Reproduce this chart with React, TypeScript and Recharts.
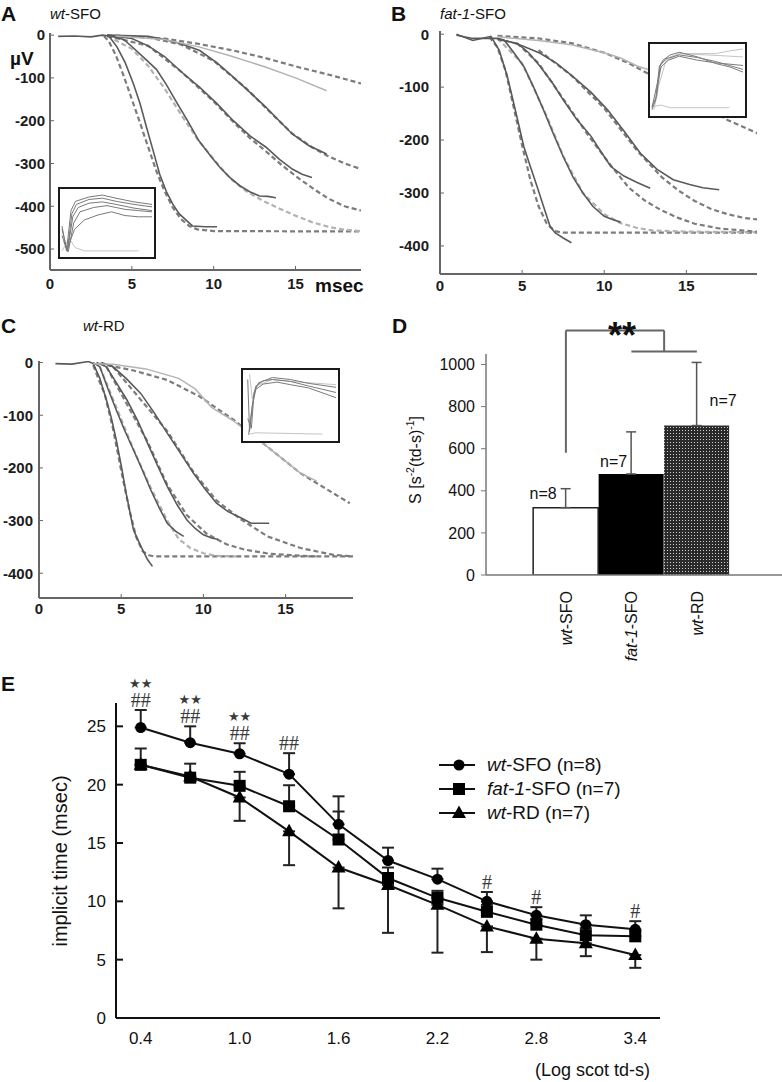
import React from 'react'
import {
  Bar,
  BarChart,
  Cell,
  ErrorBar,
  LabelList,
  Legend,
  Line,
  LineChart,
  ReferenceLine,
  XAxis,
  YAxis,
} from 'recharts'

const FONT = '"Liberation Sans", Arial, Helvetica, sans-serif'
const BOX = '#666'

type Pt = [number, number]
type Kind = 'solid' | 'light' | 'fit' | 'fitLight'

// ---- A: wt-SFO leading edges (msec, µV) ----
const aRec1: Pt[] = [[0.5, -3], [1.5, -2], [2.5, -4], [3.2, 0], [3.6, -2], [4.1, -28], [4.6, -65], [5.1, -114], [5.5, -160], [5.9, -216], [6.3, -270], [6.7, -325], [7.1, -365], [7.5, -395], [7.9, -418], [8.3, -432], [8.7, -446], [9.5, -448], [10.2, -448]]
const aFit1: Pt[] = [[3.3, -2], [3.6, -15], [4, -45], [4.5, -95], [5, -150], [5.5, -205], [6, -262], [6.5, -318], [7, -365], [7.5, -403], [8, -430], [8.5, -446], [9, -454], [10, -458], [19, -459]]
const aRec2: Pt[] = [[3.5, 0], [4.5, -10], [5.1, -30], [5.8, -55], [6.5, -80], [7.1, -115], [7.7, -155], [8.4, -200], [9.1, -247], [9.8, -282], [10.4, -310], [11, -333], [11.6, -352], [12.2, -366], [12.8, -376], [13.3, -377], [13.8, -380]]
const aFit2: Pt[] = [[3.5, -2], [5, -32], [6, -72], [7, -125], [8, -185], [9, -243], [10, -290], [11, -335], [12, -365], [13, -387], [14, -405], [15, -422], [16, -437], [17, -448], [18, -455], [19, -458]]
const aRec3: Pt[] = [[3.5, 0], [5, -8], [6, -25], [7, -50], [8, -85], [9.15, -122], [10.2, -160], [11.2, -200], [12.2, -235], [13.2, -262], [14, -290], [14.8, -313], [15.4, -325], [16, -333]]
const aFit3: Pt[] = [[3.5, -2], [6, -25], [8, -85], [10, -155], [11.2, -203], [12.2, -240], [13.2, -272], [14.2, -305], [15.2, -335], [16.2, -362], [17, -382], [18, -400], [19, -410]]
const aRec4: Pt[] = [[3.5, 0], [6, -3], [7, -10], [8, -20], [9.15, -36], [10.2, -65], [11.2, -98], [12.2, -133], [13.2, -169], [14, -200], [14.8, -231], [15.8, -258], [16.9, -278]]
const aFit4: Pt[] = [[3.5, -2], [6, -5], [8, -22], [10, -60], [12, -125], [13.5, -182], [14.8, -230], [16, -262], [17, -283], [18, -300], [19, -313]]
const aRec5: Pt[] = [[4, -2], [7, -10], [9.15, -28], [11, -48], [13.2, -75], [15, -100], [16.9, -130]]
const aFit5: Pt[] = [[4, -1], [7, -8], [9, -20], [11.2, -36], [13, -52], [15.2, -75], [17.3, -95], [19, -113]]

// ---- B: fat-1-SFO ----
const bRec1: Pt[] = [[1, 0], [2, -12], [3.1, -4], [3.6, -30], [4.1, -80], [4.6, -145], [5.1, -212], [5.5, -250], [5.9, -287], [6.3, -325], [6.7, -363], [7, -375], [7.5, -385], [8, -394]]
const bFit1: Pt[] = [[3, -5], [3.5, -25], [4, -70], [4.5, -140], [5, -210], [5.5, -275], [6, -325], [6.5, -358], [7, -372], [7.5, -375], [10, -375], [19.3, -375]]
const bRec2: Pt[] = [[1, -2], [2, -8], [3.5, -8], [3.9, -11], [4.5, -35], [5.1, -61], [5.7, -100], [6.3, -143], [6.9, -188], [7.5, -231], [8.1, -270], [8.7, -300], [9.3, -325], [10, -344], [10.5, -350], [11, -355]]
const bFit2: Pt[] = [[3.5, -8], [5, -55], [6.5, -155], [7.5, -230], [8.7, -300], [10, -340], [11, -357], [12, -366], [13, -371], [15, -373], [19.3, -374]]
const bRec3: Pt[] = [[3.5, -10], [4.7, -17], [5.4, -35], [6.1, -61], [6.8, -90], [7.5, -124], [8.3, -160], [9.2, -193], [9.8, -222], [10.4, -250], [11.2, -268], [12, -280], [12.8, -291]]
const bFit3: Pt[] = [[4.7, -17], [6, -55], [7.5, -122], [9, -190], [10.4, -248], [11.5, -290], [12.5, -315], [13.5, -333], [14.5, -347], [15.5, -358], [17, -367], [19.3, -373]]
const bRec4: Pt[] = [[4, -12], [5, -22], [6.1, -36], [7.1, -55], [8.1, -80], [9.2, -110], [10.2, -143], [11.2, -183], [12.2, -225], [13.2, -255], [14.2, -275], [15.2, -284], [16, -290], [17, -294]]
const bFit4: Pt[] = [[6, -30], [8, -78], [10, -140], [12, -220], [13.5, -270], [14.5, -295], [15.5, -315], [16.5, -330], [17.5, -340], [18.5, -347], [19.3, -350]]
const bRec5: Pt[] = [[3.5, -5], [6, -12], [8, -20], [10, -35], [11, -45], [12, -60], [13, -70]]
const bFit5: Pt[] = [[3.5, -3], [6, -8], [8, -17], [10, -35], [11.5, -55], [13, -80], [14.5, -108], [16, -135], [17.5, -162], [19.3, -187]]

// ---- C: wt-RD ----
const cRec1: Pt[] = [[1, -2], [2, -3], [3, 2], [3.3, -2], [3.7, -30], [4.1, -71], [4.4, -105], [4.7, -147], [5, -195], [5.3, -248], [5.75, -318], [6.2, -349], [6.6, -374], [6.9, -387]]
const cFit1: Pt[] = [[3.3, -5], [3.6, -30], [4, -60], [4.5, -125], [5, -205], [5.5, -280], [5.9, -330], [6.3, -358], [6.7, -366], [7, -368], [19.1, -368]]
const cRec2: Pt[] = [[3.3, 0], [3.7, -8], [4.2, -50], [4.7, -90], [5.2, -128], [5.75, -166], [6.3, -205], [6.8, -242], [7.3, -275], [7.8, -305], [8.3, -320], [8.8, -330]]
const cFit2: Pt[] = [[3.7, -8], [5.75, -165], [6.8, -238], [7.8, -300], [8.5, -335], [9.2, -352], [10, -362], [10.8, -367], [12, -368]]
const cRec3: Pt[] = [[3.5, 0], [4.1, -8], [4.7, -38], [5.35, -71], [6, -110], [6.6, -153], [7.2, -195], [7.8, -235], [8.4, -270], [9, -299], [9.5, -315], [10, -327], [10.5, -333], [10.9, -336]]
const cFit3: Pt[] = [[4.1, -8], [6.6, -150], [7.8, -232], [9, -290], [10.2, -325], [11.4, -345], [12.5, -355], [14, -363], [16, -367], [17, -368]]
const cRec4: Pt[] = [[3.8, 0], [4.5, -8], [5.3, -30], [6.2, -59], [7, -95], [7.8, -134], [8.6, -172], [9.4, -210], [10.1, -240], [10.8, -267], [11.5, -283], [12.3, -295], [12.9, -305], [14, -305]]
const cFit4: Pt[] = [[4.5, -8], [7.8, -130], [9.4, -208], [10.8, -262], [12.3, -298], [13.9, -330], [15.9, -352], [17.9, -365], [19.1, -368]]
const cRec5: Pt[] = [[3.3, -2], [4.5, -3], [6.5, -12], [8.5, -30], [9.5, -50], [10.5, -85], [11.8, -110], [13.9, -160], [15.9, -210], [16.9, -225]]
const cFit5: Pt[] = [[3.7, -2], [5.75, -15], [7.8, -33], [9.8, -65], [11.85, -109], [13.9, -160], [15.9, -210], [17.9, -248], [18.9, -267]]

// ---- insets (normalised time, normalised amplitude) ----
const insetA: Pt[][] = [
  [[0, 0.45], [0.05, 0.05], [0.1, 0.7], [0.15, 0.85], [0.3, 0.92], [0.45, 0.95], [0.6, 0.9], [0.8, 0.84], [1, 0.8]],
  [[0, 0.4], [0.06, 0.05], [0.11, 0.65], [0.16, 0.8], [0.3, 0.88], [0.45, 0.9], [0.6, 0.85], [0.8, 0.8], [1, 0.76]],
  [[0, 0.3], [0.06, 0.04], [0.12, 0.6], [0.18, 0.75], [0.3, 0.82], [0.45, 0.84], [0.6, 0.8], [0.8, 0.74], [1, 0.7]],
  [[0.02, 0.2], [0.07, 0.04], [0.13, 0.5], [0.2, 0.68], [0.35, 0.75], [0.5, 0.78], [0.7, 0.72], [0.85, 0.7], [1, 0.68]],
  [[0.05, 0.05], [0.14, 0.4], [0.25, 0.55], [0.4, 0.63], [0.55, 0.68], [0.7, 0.62], [0.85, 0.6], [1, 0.6]],
]
const insetALight: Pt[][] = [
  [[0, 0.05], [0.08, 0.25], [0.15, 0.1], [0.25, 0.05], [0.85, 0.05]],
]
const insetB: Pt[][] = [
  [[0, 0.05], [0.04, 0.2], [0.08, 0.7], [0.12, 0.8], [0.2, 0.88], [0.3, 0.92], [0.5, 0.85], [0.7, 0.75], [0.85, 0.7], [1, 0.62]],
  [[0, 0.1], [0.05, 0.25], [0.09, 0.72], [0.15, 0.82], [0.3, 0.88], [0.5, 0.84], [0.7, 0.78], [0.85, 0.72], [1, 0.66]],
  [[0, 0.08], [0.05, 0.4], [0.1, 0.7], [0.18, 0.8], [0.3, 0.86], [0.5, 0.8], [0.7, 0.76], [1, 0.72]],
]
const insetBLight: Pt[][] = [
  [[0.02, 0.05], [0.06, 0.3], [0.1, 0.75], [0.2, 0.85], [0.3, 0.9], [0.5, 0.9], [0.7, 0.9], [0.85, 0.94], [1, 0.97]],
  [[0.05, 0.3], [0.15, 0.78], [0.3, 0.9], [0.6, 0.88], [1, 0.85]],
  [[0.02, 0.1], [0.1, 0.12], [0.2, 0.08], [0.85, 0.08]],
]
const insetC: Pt[][] = [
  [[0.03, 0.9], [0.05, 0.1], [0.09, 0.6], [0.12, 0.8], [0.2, 0.88], [0.3, 0.9], [0.5, 0.87], [0.7, 0.8], [0.85, 0.75], [1, 0.7]],
  [[0.04, 0.05], [0.08, 0.5], [0.12, 0.75], [0.2, 0.83], [0.35, 0.86], [0.5, 0.82], [0.7, 0.77], [1, 0.62]],
  [[0.03, 0.3], [0.07, 0.15], [0.1, 0.7], [0.15, 0.85], [0.3, 0.93], [0.5, 0.9], [0.7, 0.84], [1, 0.78]],
]
const insetCLight: Pt[][] = [
  [[0.05, 0.98], [0.08, 0.6], [0.12, 0.8], [0.3, 0.9], [0.6, 0.86], [1, 0.82]],
  [[0.05, 0.06], [0.12, 0.08], [0.85, 0.06]],
]

// ---- D: sensitivity S ----
const dGroups = ['wt-SFO', 'fat-1-SFO', 'wt-RD']
const dMeans = [320, 480, 710]
const dSemUp = [90, 200, 300]
const dN = [8, 7, 7]

// ---- E: implicit time vs log scot td-s ----
const eX = [0.4, 0.7, 1.0, 1.3, 1.6, 1.9, 2.2, 2.5, 2.8, 3.1, 3.4]
const eNames = ['wt-SFO', 'fat-1-SFO', 'wt-RD']
const eN = [8, 7, 7]
const wtSfo = [24.9, 23.6, 22.65, 20.9, 16.6, 13.5, 11.9, 10.0, 8.8, 8.0, 7.6]
const wtSfoUp = [1.5, 1.4, 0.9, 1.8, 2.4, 1.1, 0.9, 0.8, 0.7, 0.8, 0.7]
const fat1Sfo = [21.7, 20.6, 19.9, 18.15, 15.3, 12.0, 10.3, 9.1, 8.0, 7.1, 7.0]
const fat1SfoUp = [1.4, 1.2, 1.2, 1.8, 2.4, 0.9, 0.6, 0.6, 0.5, 0.6, 0.5]
const wtRd = [21.7, 20.7, 18.9, 16.0, 12.9, 11.4, 9.7, 7.85, 6.8, 6.4, 5.4]
const wtRdDown = [0, 0, 2.0, 2.9, 3.5, 4.1, 4.1, 2.2, 1.8, 1.1, 1.1]
const sigStars = ['★★', '★★', '★★', '', '', '', '', '', '', '', '']
const sigHash = ['##', '##', '##', '##', '', '', '', '#', '#', '', '#']

const STYLE: Record<Kind, { stroke: string; w: number; dash?: string }> = {
  solid: { stroke: '#5a5a5a', w: 1.6 },
  light: { stroke: '#b4b4b4', w: 1.5 },
  fit: { stroke: '#7c7c7c', w: 2.2, dash: '5 3' },
  fitLight: { stroke: '#b2b2b2', w: 2.2, dash: '5 3' },
}

interface Curve {
  pts: Pt[]
  kind: Kind
}

const panelA: Curve[] = [
  { pts: aFit1, kind: 'fit' }, { pts: aFit2, kind: 'fitLight' }, { pts: aFit3, kind: 'fit' },
  { pts: aFit4, kind: 'fit' }, { pts: aFit5, kind: 'fit' },
  { pts: aRec1, kind: 'solid' }, { pts: aRec2, kind: 'solid' }, { pts: aRec3, kind: 'solid' },
  { pts: aRec4, kind: 'solid' }, { pts: aRec5, kind: 'light' },
]
const panelB: Curve[] = [
  { pts: bFit1, kind: 'fit' }, { pts: bFit2, kind: 'fitLight' }, { pts: bFit3, kind: 'fit' },
  { pts: bFit4, kind: 'fit' }, { pts: bFit5, kind: 'fit' },
  { pts: bRec1, kind: 'solid' }, { pts: bRec2, kind: 'solid' }, { pts: bRec3, kind: 'solid' },
  { pts: bRec4, kind: 'solid' }, { pts: bRec5, kind: 'light' },
]
const panelC: Curve[] = [
  { pts: cFit1, kind: 'fit' }, { pts: cFit2, kind: 'fitLight' }, { pts: cFit3, kind: 'fit' },
  { pts: cFit4, kind: 'fit' }, { pts: cFit5, kind: 'fit' },
  { pts: cRec1, kind: 'solid' }, { pts: cRec2, kind: 'solid' }, { pts: cRec3, kind: 'solid' },
  { pts: cRec4, kind: 'solid' }, { pts: cRec5, kind: 'light' },
]

const toRows = (pts: Pt[]) => pts.map(([t, v]) => ({ t, v }))

function TracePanel(p: {
  left: number
  top: number
  width: number
  height: number
  plotTop: number
  right: number
  yWidth: number
  xHeight: number
  xMax: number
  yDomain: [number, number]
  yTicks: number[]
  yTickMargin: number
  xTickMargin: number
  curves: Curve[]
}) {
  const tickStyle = { fontSize: 15, fontWeight: 700, fill: '#1c1c1c', fontFamily: FONT }
  const box = { stroke: BOX, strokeWidth: 2 }
  return (
    <div style={{ position: 'absolute', left: p.left, top: p.top }}>
      <LineChart width={p.width} height={p.height} margin={{ top: p.plotTop, right: p.right, bottom: 0, left: 0 }}>
        <XAxis xAxisId="b" type="number" dataKey="t" domain={[0, p.xMax]} ticks={[0, 5, 10, 15]} allowDataOverflow
          height={p.xHeight} tickSize={-4} tickMargin={p.xTickMargin} axisLine={box} tickLine={{ stroke: BOX }} tick={tickStyle} />
        <XAxis xAxisId="t" orientation="top" type="number" dataKey="t" domain={[0, p.xMax]} ticks={[5, 10, 15]} allowDataOverflow
          height={0} tickSize={-4} tickFormatter={() => ''} axisLine={box} tickLine={{ stroke: BOX }} />
        <YAxis yAxisId="l" type="number" domain={p.yDomain} ticks={p.yTicks} allowDataOverflow width={p.yWidth}
          tickSize={-4} tickMargin={p.yTickMargin} axisLine={box} tickLine={{ stroke: BOX }} tick={tickStyle} />
        <YAxis yAxisId="r" orientation="right" type="number" domain={p.yDomain} ticks={p.yTicks} allowDataOverflow width={0}
          tickSize={-4} tickFormatter={() => ''} axisLine={box} tickLine={{ stroke: BOX }} />
        {p.curves.map((c, i) => {
          const s = STYLE[c.kind]
          return (
            <Line key={i} xAxisId="b" yAxisId="l" data={toRows(c.pts)} dataKey="v" type="linear"
              stroke={s.stroke} strokeWidth={s.w} strokeDasharray={s.dash} dot={false} activeDot={false}
              isAnimationActive={false} />
          )
        })}
      </LineChart>
    </div>
  )
}

function Inset(p: { left: number; top: number; width: number; height: number; dark: Pt[][]; light: Pt[][] }) {
  return (
    <div style={{ position: 'absolute', left: p.left, top: p.top, width: p.width, height: p.height, background: '#fff', border: '2px solid #1a1a1a', boxSizing: 'border-box' }}>
      <LineChart width={p.width - 4} height={p.height - 4} margin={{ top: 3, right: 2, bottom: 3, left: 2 }}>
        <XAxis type="number" dataKey="t" domain={[0, 1]} hide />
        <YAxis type="number" domain={[0, 1]} hide />
        {p.light.map((tr, i) => (
          <Line key={'l' + i} data={toRows(tr)} dataKey="v" stroke="#c4c4c4" strokeWidth={1} dot={false} activeDot={false} isAnimationActive={false} />
        ))}
        {p.dark.map((tr, i) => (
          <Line key={'d' + i} data={toRows(tr)} dataKey="v" stroke="#7a7a7a" strokeWidth={1} dot={false} activeDot={false} isAnimationActive={false} />
        ))}
      </LineChart>
    </div>
  )
}

function Label(p: { x: number; y: number; size: number; bold?: boolean; anchor?: 'start' | 'end' | 'middle'; children: React.ReactNode }) {
  const tx = p.anchor === 'end' ? '-100%' : p.anchor === 'middle' ? '-50%' : '0'
  return (
    <div style={{ position: 'absolute', left: p.x, top: p.y, transform: `translate(${tx}, -50%)`, fontSize: p.size, fontWeight: p.bold ? 700 : 400, lineHeight: 1, whiteSpace: 'nowrap', color: '#111' }}>
      {p.children}
    </div>
  )
}

function Rotated(p: { x: number; y: number; size: number; children: React.ReactNode }) {
  return (
    <div style={{ position: 'absolute', left: p.x, top: p.y, transform: 'translate(-50%, -50%) rotate(-90deg)', fontSize: p.size, lineHeight: 1, whiteSpace: 'nowrap', color: '#111' }}>
      {p.children}
    </div>
  )
}

// split "fat-1-SFO" into italic "fat-1" and upright "-SFO"
function GroupName({ name }: { name: string }) {
  const cut = name.lastIndexOf('-')
  return (
    <>
      <i>{name.slice(0, cut)}</i>
      {name.slice(cut)}
    </>
  )
}

const dRows = dGroups.map((g, i) => ({ pos: i + 1, name: g, mean: dMeans[i], err: [0, dSemUp[i]], n: `n=${dN[i]}` }))
const D_FILLS = ['#ffffff', '#000000', 'url(#dotPat)']

function DTick(props: any) {
  const { x, y, payload } = props
  const name = dGroups[Math.round(payload.value) - 1] ?? ''
  const cut = name.lastIndexOf('-')
  return (
    <text x={x} y={y} transform={`rotate(-90 ${x} ${y})`} textAnchor="end" dominantBaseline="central" fontSize={16} fontFamily={FONT} fill="#111">
      <tspan fontStyle="italic">{name.slice(0, cut)}</tspan>
      <tspan>{name.slice(cut)}</tspan>
    </text>
  )
}

function NLabel(props: any) {
  const { x, y, width, value, index } = props
  const cx = x + width / 2
  const place: [number, number, 'start' | 'end'][] = [[-9, -14, 'end'], [-4, -12, 'end'], [13, -25, 'start']]
  const [dx, dy, anchor] = place[index] ?? [0, -12, 'end']
  return (
    <text x={cx + dx} y={y + dy} textAnchor={anchor} dominantBaseline="central" fontSize={16} fontFamily={FONT} fill="#111">
      {value}
    </text>
  )
}

function PanelD() {
  const seg = { stroke: '#666', strokeWidth: 2, ifOverflow: 'visible' as const }
  return (
    <div style={{ position: 'absolute', left: 390, top: 300 }}>
      <BarChart width={392} height={390} data={dRows} margin={{ top: 54, right: 0, bottom: 0, left: 0 }}>
        <defs>
          <pattern id="dotPat" width="3" height="3" patternUnits="userSpaceOnUse">
            <rect width="3" height="3" fill="#2a2a2a" />
            <rect x="1" y="1" width="1" height="1" fill="#d0d0d0" />
          </pattern>
        </defs>
        <XAxis dataKey="pos" type="number" domain={[-0.22, 4.3]} ticks={[1, 2, 3]} allowDataOverflow height={115}
          tickSize={0} tickMargin={16} tickLine={false} axisLine={{ stroke: '#777', strokeWidth: 1.5 }} tick={(t: any) => <DTick {...t} />} />
        <YAxis type="number" domain={[0, 1050]} ticks={[0, 200, 400, 600, 800, 1000]} allowDataOverflow width={96}
          tickSize={5} tickMargin={6} axisLine={{ stroke: '#777', strokeWidth: 1.5 }} tickLine={{ stroke: '#777' }}
          tick={{ fontSize: 16, fill: '#111', fontFamily: FONT }} />
        <Bar dataKey="mean" barSize={65} isAnimationActive={false}>
          {dRows.map((r, i) => (
            <Cell key={r.name} fill={D_FILLS[i]} stroke={i === 0 ? '#222' : 'none'} strokeWidth={1.5} />
          ))}
          <ErrorBar dataKey="err" direction="y" width={5} stroke="#555" strokeWidth={1.5} />
          <LabelList dataKey="n" content={NLabel} />
        </Bar>
        <ReferenceLine segment={[{ x: 1, y: 581 }, { x: 1, y: 1162 }]} {...seg} />
        <ReferenceLine segment={[{ x: 1, y: 1162 }, { x: 2.5, y: 1162 }]} {...seg} />
        <ReferenceLine segment={[{ x: 2.5, y: 1162 }, { x: 2.5, y: 1062 }]} {...seg} />
        <ReferenceLine segment={[{ x: 2, y: 1062 }, { x: 3, y: 1062 }]} {...seg} />
      </BarChart>
    </div>
  )
}

const eRows = eX.map((x, i) => ({
  x,
  sfo: wtSfo[i],
  sfoErr: [0, wtSfoUp[i]],
  fat: fat1Sfo[i],
  fatErr: [0, fat1SfoUp[i]],
  rd: wtRd[i],
  rdErr: [wtRdDown[i], 0],
  top: wtSfo[i] + wtSfoUp[i],
  hash: sigHash[i],
  stars: sigStars[i],
}))

function Marker({ kind, cx, cy }: { kind: number; cx: number; cy: number }) {
  if (kind === 0) return <circle cx={cx} cy={cy} r={5.5} fill="#000" />
  if (kind === 1) return <rect x={cx - 6} y={cy - 6} width={12} height={12} fill="#000" />
  return <polygon points={`${cx},${cy - 7.5} ${cx + 7},${cy + 5} ${cx - 7},${cy + 5}`} fill="#000" />
}

const dotFor = (kind: number) => (props: any) => (
  <Marker key={`${kind}-${props.index}`} kind={kind} cx={props.cx} cy={props.cy} />
)

function SigLabel(lift: number, size: number, serif: boolean) {
  return (props: any) => {
    const x = props.viewBox?.x ?? props.x
    const y = props.viewBox?.y ?? props.y
    if (!props.value) return null
    return (
      <text x={x} y={y - lift} textAnchor="middle" dominantBaseline="central" fontSize={size}
        fontFamily={serif ? '"Liberation Serif", serif' : '"DejaVu Sans", sans-serif'} fill="#3a3a3a">
        {props.value}
      </text>
    )
  }
}

function ELegend() {
  return (
    <div style={{ fontFamily: FONT, fontSize: 19, color: '#111' }}>
      {eNames.map((name, i) => (
        <div key={name} style={{ display: 'flex', alignItems: 'center', height: 24 }}>
          <svg width={44} height={18} style={{ marginRight: 6 }}>
            <line x1={2} y1={9} x2={38} y2={9} stroke="#111" strokeWidth={2} />
            <Marker kind={i} cx={22} cy={9} />
          </svg>
          <span>
            <GroupName name={name} /> (n={eN[i]})
          </span>
        </div>
      ))}
    </div>
  )
}

function PanelE() {
  const err = { direction: 'y' as const, width: 6, stroke: '#222', strokeWidth: 2 }
  return (
    <div style={{ position: 'absolute', left: 0, top: 640 }}>
      <LineChart width={782} height={442} data={eRows} margin={{ top: 63, right: 122, bottom: 0, left: 0 }}>
        <XAxis dataKey="x" type="number" domain={[0.25, 3.55]} ticks={[0.4, 1.0, 1.6, 2.2, 2.8, 3.4]} allowDataOverflow
          height={64} tickSize={0} tickMargin={14} tickLine={false} axisLine={{ stroke: '#111', strokeWidth: 2 }}
          tickFormatter={(v: number) => v.toFixed(1)} tick={{ fontSize: 17, fill: '#111', fontFamily: FONT }} />
        <YAxis type="number" domain={[0, 27]} ticks={[0, 5, 10, 15, 20, 25]} allowDataOverflow width={116}
          tickSize={-7} tickMargin={17} axisLine={{ stroke: '#111', strokeWidth: 2 }} tickLine={{ stroke: '#111', strokeWidth: 2 }}
          tick={{ fontSize: 17, fill: '#111', fontFamily: FONT }} />
        <Legend layout="vertical" align="center" verticalAlign="middle" content={() => <ELegend />}
          wrapperStyle={{ left: 437, top: 113, width: 280 }} />
        <Line name="wt-RD" dataKey="rd" stroke="#111" strokeWidth={2} dot={dotFor(2)} activeDot={false} isAnimationActive={false}>
          <ErrorBar dataKey="rdErr" {...err} />
        </Line>
        <Line name="fat-1-SFO" dataKey="fat" stroke="#111" strokeWidth={2} dot={dotFor(1)} activeDot={false} isAnimationActive={false}>
          <ErrorBar dataKey="fatErr" {...err} />
        </Line>
        <Line name="wt-SFO" dataKey="sfo" stroke="#111" strokeWidth={2} dot={dotFor(0)} activeDot={false} isAnimationActive={false}>
          <ErrorBar dataKey="sfoErr" {...err} />
        </Line>
        <Line dataKey="top" stroke="none" dot={false} activeDot={false} legendType="none" isAnimationActive={false}>
          <LabelList dataKey="hash" content={SigLabel(10, 20, true)} />
          <LabelList dataKey="stars" content={SigLabel(27, 13, false)} />
        </Line>
      </LineChart>
    </div>
  )
}

export default function App() {
  return (
    <div style={{ position: 'absolute', left: 0, top: 0, width: 782, height: 1082, background: '#fff', fontFamily: FONT, overflow: 'hidden' }}>
      <TracePanel left={0} top={0} width={380} height={300} plotTop={33} right={19} yWidth={50} xHeight={30}
        xMax={19} yDomain={[-549, 5]} yTicks={[-500, -400, -300, -200, -100, 0]} yTickMargin={9} xTickMargin={12} curves={panelA} />
      <TracePanel left={390} top={0} width={392} height={300} plotTop={31} right={25} yWidth={50} xHeight={26}
        xMax={19.3} yDomain={[-453, 6]} yTicks={[-400, -300, -200, -100, 0]} yTickMargin={15} xTickMargin={10} curves={panelB} />
      <TracePanel left={0} top={300} width={380} height={320} plotTop={61} right={27} yWidth={39} xHeight={22}
        xMax={19.1} yDomain={[-447, 3]} yTicks={[-400, -300, -200, -100, 0]} yTickMargin={10} xTickMargin={9} curves={panelC} />
      <Inset left={58} top={187} width={98} height={72} dark={insetA} light={insetALight} />
      <Inset left={648} top={42} width={99} height={76} dark={insetB} light={insetBLight} />
      <Inset left={241} top={368} width={99} height={75} dark={insetC} light={insetCLight} />
      <PanelE />
      <PanelD />

      <Label x={1} y={13} size={21} bold>A</Label>
      <Label x={50} y={13} size={15}><GroupName name="wt-SFO" /></Label>
      <Label x={10} y={58} size={19} bold>µV</Label>
      <Label x={315} y={285} size={19} bold>msec</Label>
      <Label x={391} y={13} size={21} bold>B</Label>
      <Label x={440} y={13} size={15}><GroupName name="fat-1-SFO" /></Label>
      <Label x={1} y={325} size={21} bold>C</Label>
      <Label x={83} y={325} size={15}><GroupName name="wt-RD" /></Label>
      <Label x={392} y={325} size={21} bold>D</Label>
      <Label x={622} y={336} size={36} bold anchor="middle">**</Label>
      <Rotated x={415} y={460} size={16}>
        S [s<sup style={{ fontSize: '0.65em' }}>-2</sup>(td-s)<sup style={{ fontSize: '0.65em' }}>-1</sup>]
      </Rotated>
      <Label x={1} y={683} size={21} bold>E</Label>
      <Rotated x={60} y={861} size={20}>implicit time (msec)</Rotated>
      <Label x={650} y={1070} size={18} anchor="end">(Log scot td-s)</Label>
    </div>
  )
}
